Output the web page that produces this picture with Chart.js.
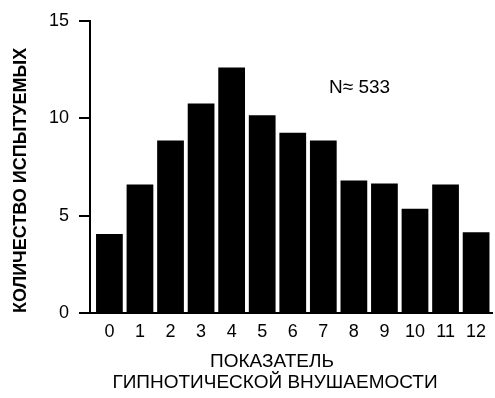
<!DOCTYPE html>
<html>
<head>
<meta charset="utf-8">
<script src="https://cdn.jsdelivr.net/npm/chart.js@4.4.1/dist/chart.umd.min.js"></script>
<style>
  html, body { margin: 0; padding: 0; background: #fff; }
  #wrap { width: 495px; height: 398px; position: relative; }
</style>
</head>
<body>
<div id="wrap"><canvas id="chart"></canvas></div>
<script>
// Hypnotic susceptibility score histogram (share of subjects per score).
const scores = [0, 1, 2, 3, 4, 5, 6, 7, 8, 9, 10, 11, 12];
const counts = [4.05, 6.6, 8.85, 10.75, 12.6, 10.15, 9.25, 8.85, 6.8, 6.65, 5.35, 6.6, 4.15];
const yTicks = [0, 5, 10, 15];

const yTitle = 'КОЛИЧЕСТВО ИСПЫТУЕМЫХ';
const xTitleLines = ['ПОКАЗАТЕЛЬ', 'ГИПНОТИЧЕСКОЙ ВНУШАЕМОСТИ'];
const noteText = 'N≈ 533';

const FONT = '"Liberation Sans", Arial, sans-serif';

// Titles and the N annotation are drawn by hand so they sit where the
// original figure has them (off-centre from the plot area).
const textPlugin = {
    id: 'figureText',
    afterDraw(chart) {
        const ctx = chart.ctx;
        const area = chart.chartArea;
        ctx.save();
        ctx.fillStyle = '#000';

        ctx.font = `bold 18px ${FONT}`;
        ctx.textAlign = 'left';
        ctx.textBaseline = 'middle';
        ctx.translate(21, area.bottom);
        ctx.rotate(-Math.PI / 2);
        ctx.fillText(yTitle, 0, 0);
        ctx.setTransform(1, 0, 0, 1, 0, 0);

        ctx.font = `19px ${FONT}`;
        ctx.textAlign = 'center';
        ctx.textBaseline = 'alphabetic';
        ctx.fillText(xTitleLines[0], 272, 367);
        ctx.fillText(xTitleLines[1], 275, 388);

        ctx.textAlign = 'left';
        ctx.fillText(noteText, 329, 93);
        ctx.restore();
    },
};

new Chart(document.getElementById('chart'), {
    type: 'bar',
    data: {
        datasets: [{
            data: scores.map((s, i) => ({ x: s, y: counts[i] })),
            backgroundColor: '#000',
            borderWidth: 0,
            barPercentage: 0.875,
            categoryPercentage: 1,
        }],
    },
    options: {
        responsive: true,
        maintainAspectRatio: false,
        animation: false,
        layout: { padding: { top: 20, right: 3, bottom: 0, left: 0 } },
        plugins: { legend: { display: false }, tooltip: { enabled: false } },
        scales: {
            x: {
                type: 'linear',
                offset: false,
                min: -0.635,
                max: 12.52,
                grid: { display: false, drawTicks: false },
                border: { display: true, color: '#000', width: 2 },
                afterBuildTicks: (scale) => { scale.ticks = scores.map(v => ({ value: v })); },
                afterFit: (scale) => { scale.height = 85; },
                ticks: {
                    color: '#000',
                    padding: 8,
                    maxRotation: 0,
                    autoSkip: false,
                    font: { family: FONT, size: 18 },
                },
            },
            y: {
                min: 0,
                max: 15,
                grid: {
                    display: true,
                    drawOnChartArea: false,
                    drawTicks: true,
                    tickLength: 11,
                    color: '#000',
                    lineWidth: 2,
                },
                border: { display: true, color: '#000', width: 2 },
                afterBuildTicks: (scale) => { scale.ticks = yTicks.map(v => ({ value: v })); },
                afterFit: (scale) => { scale.width = 90; },
                ticks: {
                    color: '#000',
                    padding: 10,
                    font: { family: FONT, size: 18 },
                },
            },
        },
    },
    plugins: [textPlugin],
});
</script>
</body>
</html>
